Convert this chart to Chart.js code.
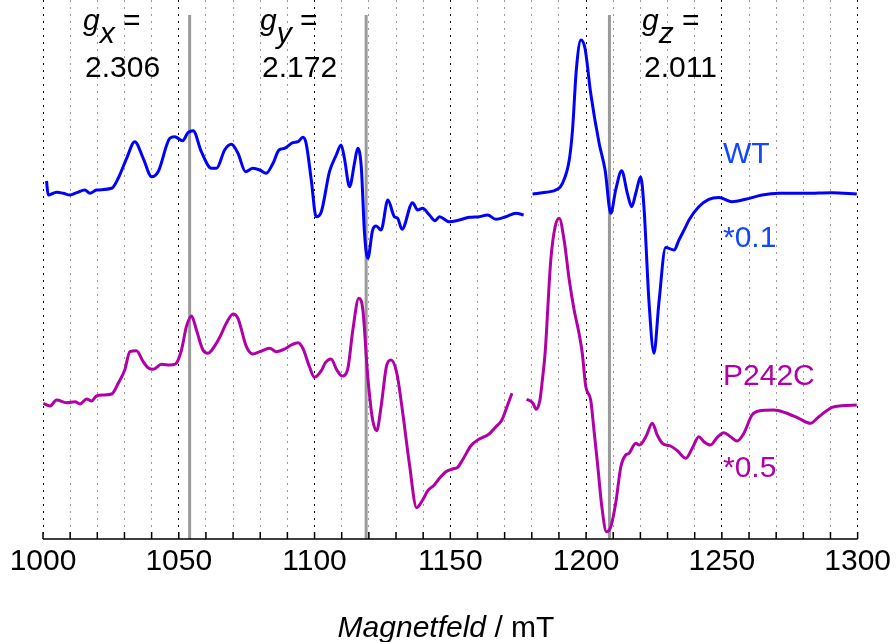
<!DOCTYPE html>
<html>
<head>
<meta charset="utf-8">
<script src="https://cdn.jsdelivr.net/npm/chart.js@4"></script>
<style>
  html, body { margin: 0; padding: 0; background: #fff; }
  canvas { display: block; }
</style>
</head>
<body>
<canvas id="epr" width="896" height="642"></canvas>
<script>
// EPR spectra, field in mT, signal in arbitrary units (offset for each trace)
let wtFieldA = [1001.3,1001.9,1005.0,1007.5,1009.9,1012.4,1015.4,1017.3,1019.7,1025.3,1027.7,1030.8,1033.8,1036.9,1040.0,1042.4,1046.7,1048.5,1051.4,1053.4,1055.3,1058.3,1062.0,1063.9,1066.9,1069.4,1071.8,1074.6,1077.3,1079.8,1082.2,1084.7,1086.9,1089.0,1092.0,1093.9,1095.7,1096.9,1098.8,1100.6,1102.5,1105.5,1108.0,1109.8,1111.0,1112.9,1114.7,1115.9,1117.2,1118.4,1119.6,1121.4,1122.7,1124.5,1127.0,1129.4,1130.6,1132.2,1136.1,1138.0,1139.8,1142.3,1144.4,1146.0,1149.6,1153.3,1157.0,1160.7,1163.7,1166.8,1170.5,1174.2,1177.0];
let wtSignalA = [358,344,346.7,345.7,344,346.3,349,345.7,349,350.7,360.7,380.7,397.3,380.7,362.3,367.3,400.7,402.3,398.3,406.3,408.3,387.3,370.7,370.7,389,394.7,385.7,367.3,370.7,369,365.7,375.7,389,390.7,396.3,397.3,401.7,395.7,359,322.3,327.3,367.3,384,394,380.7,352.3,375.7,390.7,372.3,305.7,280.7,309,313,309,339,322.3,320.7,309.7,336.3,329,330.7,324,318.3,322.3,317.3,319,321.7,322.3,324,319.7,322.3,325.7,324];
let wtFieldB = [1180.3,1185.2,1189.4,1191.3,1193.8,1195.0,1196.4,1198.1,1199.6,1201.7,1204.8,1207.0,1209.1,1210.9,1213.1,1215.2,1216.8,1218.3,1220.1,1221.3,1223.2,1225.0,1226.8,1229.3,1232.4,1234.2,1236.7,1237.9,1241.5,1245.2,1248.9,1253.8,1258.7,1264.8,1271.0,1280.8,1290.6,1299.7];
let wtSignalB = [345,346.7,349.7,355.7,379,409,469,499,490.7,445.7,395.7,369,325.7,349,368.3,345.7,332.3,345.7,362.3,332.3,235.7,185.7,235.7,291.5,289,299,312.3,319,332.3,339.7,341.5,337.3,339.7,344,345.7,345.7,346.3,345];

let mutFieldA = [1000.1,1002.6,1005.0,1008.7,1011.8,1013.6,1016.1,1017.9,1019.7,1022.2,1025.3,1027.7,1030.1,1032.0,1034.4,1036.9,1038.7,1040.6,1043.6,1046.7,1048.8,1051.0,1052.8,1054.7,1056.5,1058.9,1060.8,1062.0,1065.1,1067.5,1070.0,1071.8,1074.9,1077.3,1079.8,1083.5,1085.9,1089.0,1091.4,1093.9,1095.7,1098.2,1100.0,1102.5,1104.0,1106.1,1108.2,1110.2,1112.2,1114.1,1116.3,1117.8,1119.6,1121.4,1122.9,1124.5,1126.6,1128.2,1130.3,1132.5,1134.9,1137.6,1139.8,1141.7,1144.1,1146.0,1148.4,1150.8,1152.7,1154.5,1157.6,1160.7,1162.5,1164.3,1166.8,1169.0,1171.1,1172.7];
let mutSignalA = [135.7,133,139,136.3,137.3,135,140,138,143,144,145,155.7,169,187.3,188.3,177.3,171.3,169.7,174.7,174,175,189,212.3,223,209,189,185.7,188.3,201.7,215.7,225,220.7,192.3,185,187.3,190.7,187.3,190,194,196.3,190.7,171.7,161.7,168.3,176.3,180,169,163,169.7,209,240.7,229,162.3,119,108.3,132.3,174,179,165.7,125.7,75.7,31.3,39,48.3,54,60.7,67.3,70,71.7,79,93.3,100,102.3,105,112.3,119,134,145.7];
let mutFieldB = [1178.1,1180.3,1181.7,1183.0,1183.9,1184.9,1187.0,1188.6,1190.1,1191.9,1193.8,1195.6,1197.4,1198.6,1199.9,1201.7,1202.9,1204.2,1205.8,1207.5,1209.1,1210.9,1212.8,1214.6,1215.8,1218.3,1219.7,1222.0,1224.4,1226.2,1228.1,1231.1,1233.6,1236.7,1239.1,1241.5,1243.4,1245.8,1248.3,1250.7,1253.2,1255.6,1258.1,1261.1,1263.6,1269.1,1273.4,1278.3,1282.6,1285.7,1290.6,1294.2,1299.7];
let mutSignalB = [139.8,136.3,129.7,139,159,185.7,279,312.3,320.7,299,259,229,205.7,185.7,152.3,139,109,75.7,32.3,7.3,12.3,35.7,72.3,84,85.7,95.7,94,102.3,115.7,104,95.7,93,88.3,80.7,90.7,102.3,97.3,94,101.7,106.3,102.3,98,105.7,124,128,129,126.3,120.7,115.7,122.3,131.7,133.3,134];

// g-value positions (mT) and their labels
let gFields = [1054, 1119, 1208.6];
let gAxes = ['x', 'y', 'z'];
let gValues = ['2.306', '2.172', '2.011'];

let fontFamily = "'Liberation Sans', Arial, sans-serif";
let blue = '#0000ff';
let magenta = '#b000a6';

function toPoints(xs, ys) {
    return xs.map((x, i) => ({x: x, y: ys[i]}));
}

function line(xs, ys, color) {
    return {
        data: toPoints(xs, ys),
        borderColor: color,
        borderWidth: 3,
        pointRadius: 0,
        cubicInterpolationMode: 'monotone',
        fill: false
    };
}

// gray marker lines at the g-values
let gLines = {
    id: 'gLines',
    beforeDatasetsDraw(chart) {
        let ctx = chart.ctx;
        let xs = chart.scales.x;
        let area = chart.chartArea;
        ctx.save();
        ctx.strokeStyle = '#9a9a9a';
        ctx.lineWidth = 3;
        gFields.forEach(f => {
            let px = xs.getPixelForValue(f);
            ctx.beginPath();
            ctx.moveTo(px, area.top + 15);
            ctx.lineTo(px, area.bottom);
            ctx.stroke();
        });
        ctx.restore();
    }
};

// axis line, inward ticks and all the text
let decorations = {
    id: 'decorations',
    afterDraw(chart) {
        let ctx = chart.ctx;
        let xs = chart.scales.x;
        let area = chart.chartArea;
        ctx.save();

        ctx.strokeStyle = '#000';
        ctx.lineWidth = 1.5;
        ctx.beginPath();
        ctx.moveTo(area.left, area.bottom);
        ctx.lineTo(area.right, area.bottom);
        for (let v = 1000; v <= 1300; v += 10) {
            let px = xs.getPixelForValue(v);
            ctx.moveTo(px, area.bottom);
            ctx.lineTo(px, area.bottom - 7);
        }
        ctx.stroke();

        ctx.fillStyle = '#000';
        ctx.textBaseline = 'alphabetic';
        let italic = 'italic 30px ' + fontFamily;
        let normal = '30px ' + fontFamily;
        let gLeft = [83, 260, 642];
        gLeft.forEach((x0, i) => {
            ctx.font = italic;
            ctx.fillText('g', x0, 30);
            let x1 = x0 + ctx.measureText('g').width;
            ctx.fillText(gAxes[i], x1, 43);
            let x2 = x1 + ctx.measureText(gAxes[i]).width;
            ctx.font = normal;
            ctx.fillText(' =', x2, 30);
            ctx.fillText(gValues[i], x0 + 2, 77);
        });

        ctx.font = normal;
        ctx.fillStyle = '#1446ff';
        ctx.fillText('WT', 723, 163);
        ctx.fillText('*0.1', 723, 247);
        ctx.fillStyle = magenta;
        ctx.fillText('P242C', 723, 385);
        ctx.fillText('*0.5', 723, 477);

        // axis title with italic quantity
        ctx.fillStyle = '#000';
        ctx.font = italic;
        let w1 = ctx.measureText('Magnetfeld').width;
        ctx.font = normal;
        let w2 = ctx.measureText(' / mT').width;
        let start = 446 - (w1 + w2) / 2;
        ctx.font = italic;
        ctx.fillText('Magnetfeld', start, 637);
        ctx.font = normal;
        ctx.fillText(' / mT', start + w1, 637);

        ctx.restore();
    }
};

let chart = new Chart(document.getElementById('epr').getContext('2d'), {
    type: 'line',
    data: {
        datasets: [
            line(wtFieldA, wtSignalA, blue),
            line(wtFieldB, wtSignalB, blue),
            line(mutFieldA, mutSignalA, magenta),
            line(mutFieldB, mutSignalB, magenta)
        ]
    },
    options: {
        responsive: false,
        animation: false,
        layout: { padding: { left: 43, right: 37, top: 0, bottom: 0 } },
        plugins: { legend: { display: false }, tooltip: { enabled: false } },
        scales: {
            x: {
                type: 'linear',
                min: 1000,
                max: 1300,
                afterFit(scale) { scale.height = 103; },
                ticks: {
                    stepSize: 10,
                    autoSkip: false,
                    maxRotation: 0,
                    padding: 5,
                    color: '#000',
                    font: { size: 30, family: fontFamily },
                    callback: v => (v % 50 === 0 ? v : '')
                },
                grid: {
                    drawTicks: false,
                    color: c => (c.tick && c.tick.value % 50 === 0 ? '#000' : '#999'),
                    lineWidth: 1
                },
                border: { display: false, dash: [2, 5] }
            },
            y: {
                display: false,
                min: 0,
                max: 539
            }
        }
    },
    plugins: [gLines, decorations]
});
</script>
</body>
</html>
